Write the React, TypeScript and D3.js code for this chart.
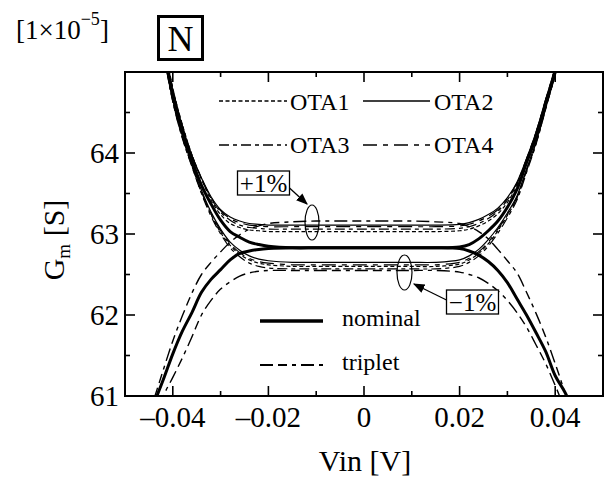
import React from "react";
import * as d3 from "d3";

// Vin grid shared by every curve [V]
const vin = [-0.044, -0.042, -0.040, -0.038, -0.036, -0.034, -0.032, -0.030, -0.028, -0.026, -0.024, -0.022, -0.020, -0.015, -0.010, -0.005, 0,
  0.005, 0.010, 0.015, 0.020, 0.022, 0.024, 0.026, 0.028, 0.030, 0.032, 0.034, 0.036, 0.038, 0.040, 0.042, 0.044];

// Gm [1e-5 S]
const nominalUp = [66.2, 65.35, 64.7, 64.27, 63.91, 63.6, 63.37, 63.17, 63.03, 62.96, 62.9, 62.87, 62.85, 62.83, 62.83, 62.83, 62.83,
  62.83, 62.83, 62.83, 62.84, 62.87, 62.94, 63.04, 63.16, 63.33, 63.55, 63.88, 64.2, 64.6, 65.0, 65.5, 66.2];
const nominalDown = [60.9, 61.2, 61.52, 61.8, 62.03, 62.28, 62.44, 62.56, 62.68, 62.76, 62.79, 62.81, 62.82, 62.83, 62.83, 62.83, 62.83,
  62.83, 62.83, 62.83, 62.82, 62.79, 62.74, 62.66, 62.55, 62.4, 62.2, 62.0, 61.78, 61.55, 61.25, 61.05, 60.8];
const tripletUp = [60.95, 61.32, 61.68, 61.99, 62.27, 62.5, 62.65, 62.78, 62.9, 62.99, 63.06, 63.1, 63.13, 63.15, 63.16, 63.16, 63.16,
  63.16, 63.16, 63.15, 63.13, 63.09, 63.03, 62.94, 62.81, 62.67, 62.52, 62.28, 62.02, 61.73, 61.4, 61.05, 60.7];
const tripletDown = [60.7, 61.0, 61.23, 61.47, 61.73, 62.0, 62.18, 62.32, 62.41, 62.48, 62.52, 62.54, 62.55, 62.55, 62.55, 62.55, 62.55,
  62.55, 62.55, 62.55, 62.53, 62.5, 62.46, 62.39, 62.3, 62.18, 62.03, 61.85, 61.63, 61.4, 61.13, 60.85, 60.6];

// +1% OTAs
const ota1Plus = [66.3, 65.45, 64.8, 64.35, 63.98, 63.68, 63.42, 63.24, 63.13, 63.08, 63.05, 63.04, 63.03, 63.03, 63.03, 63.03, 63.03,
  63.03, 63.03, 63.03, 63.04, 63.06, 63.1, 63.16, 63.25, 63.39, 63.6, 63.91, 64.25, 64.65, 65.05, 65.55, 66.3];
const ota2Plus = [66.25, 65.4, 64.78, 64.33, 63.97, 63.69, 63.46, 63.3, 63.21, 63.16, 63.13, 63.12, 63.11, 63.11, 63.11, 63.11, 63.11,
  63.11, 63.11, 63.11, 63.12, 63.14, 63.18, 63.24, 63.32, 63.45, 63.64, 63.93, 64.26, 64.66, 65.06, 65.55, 66.25];
const ota3Plus = [66.28, 65.42, 64.79, 64.34, 63.97, 63.68, 63.44, 63.27, 63.17, 63.11, 63.08, 63.07, 63.06, 63.06, 63.06, 63.06, 63.06,
  63.06, 63.06, 63.06, 63.07, 63.09, 63.13, 63.19, 63.28, 63.42, 63.62, 63.92, 64.25, 64.65, 65.05, 65.55, 66.28];
const ota4Plus = [66.26, 65.41, 64.78, 64.33, 63.97, 63.69, 63.45, 63.29, 63.19, 63.14, 63.11, 63.1, 63.09, 63.09, 63.09, 63.09, 63.09,
  63.09, 63.09, 63.09, 63.1, 63.12, 63.16, 63.22, 63.3, 63.44, 63.63, 63.93, 64.26, 64.66, 65.06, 65.55, 66.26];

// -1% OTAs
const ota1Minus = [66.1, 65.28, 64.64, 64.19, 63.84, 63.51, 63.24, 63.02, 62.86, 62.75, 62.68, 62.64, 62.62, 62.6, 62.6, 62.6, 62.6,
  62.6, 62.6, 62.6, 62.63, 62.68, 62.76, 62.88, 63.04, 63.23, 63.44, 63.78, 64.12, 64.55, 64.98, 65.45, 66.1];
const ota2Minus = [66.12, 65.3, 64.66, 64.21, 63.86, 63.54, 63.27, 63.06, 62.9, 62.8, 62.73, 62.69, 62.67, 62.65, 62.65, 62.65, 62.65,
  62.65, 62.65, 62.65, 62.68, 62.73, 62.81, 62.93, 63.08, 63.26, 63.47, 63.8, 64.14, 64.56, 64.99, 65.46, 66.12];
const ota3Minus = [66.08, 65.27, 64.63, 64.18, 63.83, 63.5, 63.22, 63.0, 62.83, 62.72, 62.64, 62.6, 62.58, 62.57, 62.57, 62.57, 62.57,
  62.57, 62.57, 62.57, 62.6, 62.65, 62.73, 62.85, 63.01, 63.2, 63.42, 63.76, 64.11, 64.54, 64.97, 65.44, 66.08];
const ota4Minus = [66.1, 65.29, 64.65, 64.2, 63.85, 63.52, 63.25, 63.04, 62.88, 62.77, 62.7, 62.66, 62.64, 62.62, 62.62, 62.62, 62.62,
  62.62, 62.62, 62.62, 62.65, 62.7, 62.78, 62.9, 63.06, 63.24, 63.45, 63.79, 64.13, 64.55, 64.98, 65.45, 66.1];

const xMajor = [-0.04, -0.02, 0, 0.02, 0.04];
const xMinor = [-0.05, -0.03, -0.01, 0.01, 0.03, 0.05];
const yMajor = [61, 62, 63, 64];
const yMinor = [61.5, 62.5, 63.5, 64.5];

const DASH = {
  ota1: "4,2.5",
  ota2: "",
  ota3: "10,4,4,4",
  ota4: "14,6,5,6",
  triplet: "13,5,9,5,4,5",
};

const series = [
  { id: "o1p", values: ota1Plus, dash: DASH.ota1, w: 1.2 },
  { id: "o2p", values: ota2Plus, dash: DASH.ota2, w: 1.2 },
  { id: "o3p", values: ota3Plus, dash: DASH.ota3, w: 1.2 },
  { id: "o4p", values: ota4Plus, dash: DASH.ota4, w: 1.2 },
  { id: "o1m", values: ota1Minus, dash: DASH.ota1, w: 1.2 },
  { id: "o2m", values: ota2Minus, dash: DASH.ota2, w: 1.2 },
  { id: "o3m", values: ota3Minus, dash: DASH.ota3, w: 1.2 },
  { id: "o4m", values: ota4Minus, dash: DASH.ota4, w: 1.2 },
  { id: "tu", values: tripletUp, dash: DASH.triplet, w: 1.4 },
  { id: "td", values: tripletDown, dash: DASH.triplet, w: 1.4 },
  { id: "nu", values: nominalUp, dash: "", w: 3 },
  { id: "nd", values: nominalDown, dash: "", w: 3 },
];

const W = 611;
const H = 486;
const font = '"Liberation Serif", "Times New Roman", Times, "DejaVu Serif", serif';

export default function App() {
  const x = d3.scaleLinear().domain([-0.05, 0.05]).range([125, 603]);
  const y = d3.scaleLinear().domain([61, 65]).range([396, 72]);
  const [x0, x1] = x.range();
  const [y0, y1] = y.range();

  const line = d3
    .line<number>()
    .x((_, i) => x(vin[i]))
    .y((d) => y(d))
    .curve(d3.curveCatmullRom);

  const fmtX = (v: number) => (v === 0 ? "0" : (v < 0 ? "\u2013" : "") + Math.abs(v).toFixed(2));

  return (
    <svg width={W} height={H} style={{ position: "absolute", left: 0, top: 0, background: "#fff", fontFamily: font }}>
      <defs>
        <clipPath id="plot">
          <rect x={x0} y={y1} width={x1 - x0} height={y0 - y1} />
        </clipPath>
        <marker id="arrow" viewBox="0 0 10 10" refX="9" refY="5" markerWidth="9" markerHeight="9" orient="auto">
          <path d="M0,1 L10,5 L0,9 Z" fill="#000" />
        </marker>
      </defs>

      {/* curves */}
      <g clipPath="url(#plot)" fill="none" stroke="#000">
        {series.map((s) => (
          <path key={s.id} d={line(s.values) || ""} strokeWidth={s.w} strokeDasharray={s.dash || undefined} />
        ))}
      </g>

      {/* frame */}
      <rect x={x0} y={y1} width={x1 - x0} height={y0 - y1} fill="none" stroke="#000" strokeWidth={2} />

      {/* ticks */}
      <g stroke="#000" strokeWidth={1.6}>
        {xMajor.map((v) => (
          <g key={"xM" + v}>
            <line x1={x(v)} x2={x(v)} y1={y0} y2={y0 - 10} />
            <line x1={x(v)} x2={x(v)} y1={y1} y2={y1 + 10} />
          </g>
        ))}
        {xMinor.map((v) => (
          <g key={"xm" + v}>
            <line x1={x(v)} x2={x(v)} y1={y0} y2={y0 - 5} />
            <line x1={x(v)} x2={x(v)} y1={y1} y2={y1 + 5} />
          </g>
        ))}
        {yMajor.map((v) => (
          <g key={"yM" + v}>
            <line x1={x0} x2={x0 + 10} y1={y(v)} y2={y(v)} />
            <line x1={x1} x2={x1 - 10} y1={y(v)} y2={y(v)} />
          </g>
        ))}
        {yMinor.map((v) => (
          <g key={"ym" + v}>
            <line x1={x0} x2={x0 + 5} y1={y(v)} y2={y(v)} />
            <line x1={x1} x2={x1 - 5} y1={y(v)} y2={y(v)} />
          </g>
        ))}
      </g>

      {/* tick labels */}
      <g fontSize={29} fill="#000">
        {xMajor.map((v) => (
          <text key={"xl" + v} x={x(v)} y={427} textAnchor="middle">
            {fmtX(v)}
          </text>
        ))}
        {yMajor.map((v) => (
          <text key={"yl" + v} x={119} y={y(v) + 10} textAnchor="end">
            {v}
          </text>
        ))}
      </g>

      {/* axis titles */}
      <text x={365} y={471} fontSize={30} textAnchor="middle">
        Vin [V]
      </text>
      <text transform="translate(64,240) rotate(-90)" fontSize={30} textAnchor="middle">
        G<tspan fontSize={19} dy={6}>m</tspan>
        <tspan dy={-6}> [S]</tspan>
      </text>

      {/* scale note and panel tag */}
      <text x={16} y={39} fontSize={27}>
        [1×10<tspan fontSize={18} dy={-14}>{"\u22125"}</tspan>
        <tspan dy={14}>]</tspan>
      </text>
      <rect x={158.5} y={16.5} width={44} height={43} fill="none" stroke="#000" strokeWidth={3} />
      <text x={180.5} y={51} fontSize={36} textAnchor="middle">
        N
      </text>

      {/* OTA legend */}
      <g stroke="#000" strokeWidth={1.3}>
        <line x1={219} x2={287} y1={101} y2={101} strokeDasharray={DASH.ota1} />
        <line x1={363} x2={430} y1={101} y2={101} />
        <line x1={219} x2={287} y1={145} y2={145} strokeDasharray={DASH.ota3} />
        <line x1={363} x2={430} y1={145} y2={145} strokeDasharray={DASH.ota4} />
      </g>
      <g fontSize={24}>
        <text x={290} y={110}>OTA1</text>
        <text x={434} y={110}>OTA2</text>
        <text x={290} y={153}>OTA3</text>
        <text x={434} y={153}>OTA4</text>
      </g>

      {/* nominal / triplet legend */}
      <line x1={260} x2={323} y1={321} y2={321} stroke="#000" strokeWidth={3.5} />
      <line x1={260} x2={323} y1={365} y2={365} stroke="#000" strokeWidth={1.8} strokeDasharray={DASH.triplet} />
      <g fontSize={24}>
        <text x={342} y={326}>nominal</text>
        <text x={342} y={370}>triplet</text>
      </g>

      {/* +1% annotation */}
      <rect x={237.5} y={171} width={52} height={24} fill="#fff" stroke="#000" strokeWidth={1.3} />
      <text x={263.5} y={192} fontSize={25} textAnchor="middle">+1%</text>
      <ellipse cx={312} cy={222.5} rx={7} ry={17.5} fill="none" stroke="#000" strokeWidth={1.2} />
      <line x1={289.5} y1={188} x2={307} y2={204} stroke="#000" strokeWidth={1.3} markerEnd="url(#arrow)" />

      {/* -1% annotation */}
      <rect x={446.5} y={290} width={52} height={24} fill="#fff" stroke="#000" strokeWidth={1.3} />
      <text x={472.5} y={311} fontSize={25} textAnchor="middle">{"\u22121%"}</text>
      <ellipse cx={404.5} cy={272.5} rx={7.5} ry={17.5} fill="none" stroke="#000" strokeWidth={1.2} />
      <line x1={446.5} y1={300} x2={414} y2={284} stroke="#000" strokeWidth={1.3} markerEnd="url(#arrow)" />
    </svg>
  );
}
